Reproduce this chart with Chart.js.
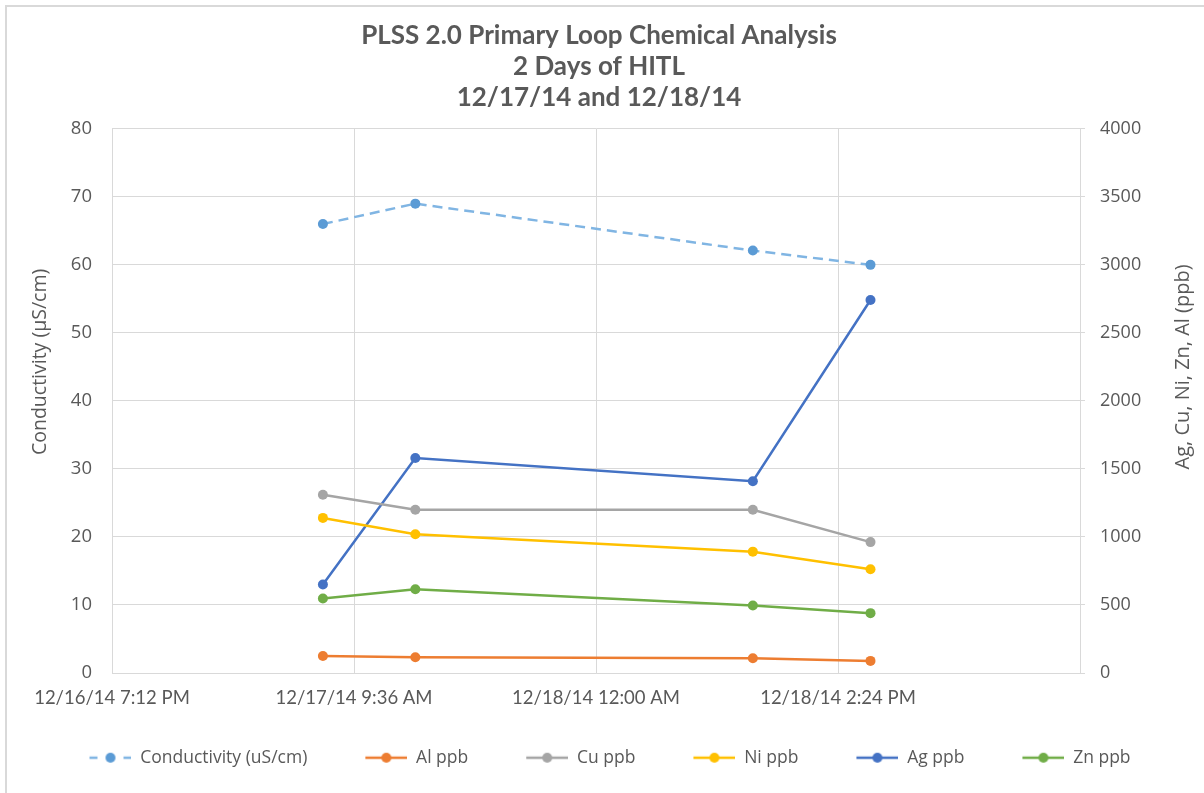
<!DOCTYPE html>
<html>
<head>
<meta charset="utf-8">
<script src="https://cdn.jsdelivr.net/npm/chart.js@4.4.0/dist/chart.umd.min.js"></script>
<style>
  html, body { margin: 0; padding: 0; background: #fff; }
  #wrap { position: relative; width: 1204px; height: 793px; overflow: hidden; }
  #frame { position: absolute; left: 5px; top: 5px; width: 1300px; height: 900px; border: 2px solid #d9d9d9; box-sizing: border-box; }
  canvas { position: absolute; left: 0; top: 0; }
</style>
</head>
<body>
<div id="wrap">
  <div id="frame"></div>
  <canvas id="chart" width="1204" height="793"></canvas>
</div>
<script>
// x axis tick labels (Excel date axis, 14.4 h apart)
const xTickLabels = ['12/16/14 7:12 PM', '12/17/14 9:36 AM', '12/18/14 12:00 AM', '12/18/14 2:24 PM'];

// sample times
const sampleTimes = ['12/17/14 7:45 AM', '12/17/14 1:15 PM', '12/18/14 9:20 AM', '12/18/14 4:20 PM'];

// left axis (uS/cm)
const conductivity = [66.0, 69.0, 62.1, 60.0];
// right axis (ppb)
const alPpb = [125, 116, 108, 89];
const cuPpb = [1310, 1200, 1200, 962];
const niPpb = [1140, 1020, 892, 762];
const agPpb = [650, 1580, 1410, 2742];
const znPpb = [547, 615, 496, 440];

const seriesNames = ['Conductivity (uS/cm)', 'Al ppb', 'Cu ppb', 'Ni ppb', 'Ag ppb', 'Zn ppb'];
const seriesColors = ['#5b9bd5', '#ed7d31', '#a5a5a5', '#ffc000', '#4472c4', '#70ad47'];

const leftTitle = 'Conductivity (µS/cm)';
const rightTitle = 'Ag, Cu, Ni, Zn, Al (ppb)';

function parseStamp(s) {
  const m = s.match(/(\d+)\/(\d+)\/(\d+) (\d+):(\d+) (AM|PM)/);
  let h = +m[4] % 12;
  if (m[6] === 'PM') h += 12;
  return Date.UTC(2000 + +m[3], +m[1] - 1, +m[2], h, +m[5]);
}

const xMin = parseStamp(xTickLabels[0]);
const xStep = parseStamp(xTickLabels[1]) - xMin;
const xMax = xMin + xStep * 4;
const times = sampleTimes.map(parseStamp);

function pts(vals) {
  return vals.map((v, i) => ({ x: times[i], y: v }));
}

// legend markers: short line with a dot; blank strip on the left widens the gap between entries
const ICON_GAP = 22;
const ICON_W = 42;
function legendIcon(color, dashed) {
  const c = document.createElement('canvas');
  c.width = ICON_GAP + ICON_W; c.height = 12;
  const g = c.getContext('2d');
  g.translate(ICON_GAP, 0);
  g.strokeStyle = dashed ? '#80b5e3' : color;
  g.lineWidth = 2.5;
  g.beginPath();
  if (dashed) {
    g.moveTo(0, 6); g.lineTo(8, 6);
    g.moveTo(34, 6); g.lineTo(42, 6);
  } else {
    g.moveTo(0, 6); g.lineTo(42, 6);
  }
  g.stroke();
  g.fillStyle = color;
  g.beginPath();
  g.arc(21, 6, 5, 0, Math.PI * 2);
  g.fill();
  return c;
}
const icons = seriesColors.map((c, i) => legendIcon(c, i === 0));

const allSeries = [conductivity, alPpb, cuPpb, niPpb, agPpb, znPpb];
const datasets = allSeries.map((vals, i) => ({
  label: seriesNames[i],
  data: pts(vals),
  yAxisID: i === 0 ? 'y' : 'y1',
  borderColor: i === 0 ? '#80b5e3' : seriesColors[i],
  backgroundColor: seriesColors[i],
  pointBackgroundColor: seriesColors[i],
  pointBorderColor: seriesColors[i],
  borderWidth: 2.5,
  borderDash: i === 0 ? [10, 6] : [],
  pointRadius: 5,
  pointBorderWidth: 0,
  tension: 0,
  fill: false
}));

const textGray = '#595959';
const gridGray = '#d9d9d9';

// both axis titles read bottom-to-top and sit a little above the middle, as in Excel
const axisTitlePlugin = {
  id: 'axisTitles',
  afterDraw(chart) {
    const { ctx, chartArea } = chart;
    const mid = (chartArea.top + chartArea.bottom) / 2;
    ctx.save();
    ctx.fillStyle = textGray;
    ctx.textAlign = 'center';
    ctx.textBaseline = 'middle';
    ctx.font = '19.5px "Open Sans"';
    ctx.translate(40, mid - 39);
    ctx.rotate(-Math.PI / 2);
    ctx.fillText(leftTitle, 0, 0);
    ctx.restore();
    ctx.save();
    ctx.fillStyle = textGray;
    ctx.textAlign = 'center';
    ctx.textBaseline = 'middle';
    ctx.font = '20px "Open Sans"';
    ctx.translate(chartArea.right + 103, mid - 34);
    ctx.rotate(-Math.PI / 2);
    ctx.fillText(rightTitle, 0, 0);
    ctx.restore();
  }
};

new Chart(document.getElementById('chart'), {
  type: 'line',
  data: { datasets },
  plugins: [axisTitlePlugin],
  options: {
    responsive: false,
    animation: false,
    layout: { padding: { left: 8, right: 14, top: 10, bottom: 16.5 } },
    plugins: {
      title: {
        display: true,
        text: ['PLSS 2.0 Primary Loop Chemical Analysis', '2 Days of HITL', '12/17/14 and 12/18/14'],
        color: textGray,
        font: { family: 'Lato', size: 26, weight: 'bold', lineHeight: 1.19 },
        padding: { top: 10, bottom: 16 }
      },
      legend: {
        position: 'bottom',
        labels: {
          usePointStyle: true,
          pointStyleWidth: ICON_GAP + ICON_W,
          padding: 36,
          color: textGray,
          font: { family: 'Open Sans', size: 17.5 },
          generateLabels(chart) {
            const items = Chart.defaults.plugins.legend.labels.generateLabels(chart);
            items.forEach((it, i) => { it.pointStyle = icons[i]; });
            return items;
          }
        }
      },
      tooltip: { enabled: false }
    },
    scales: {
      x: {
        type: 'linear',
        min: xMin,
        max: xMax,
        ticks: {
          stepSize: xStep,
          autoSkip: false,
          maxRotation: 0,
          padding: 14,
          color: textGray,
          font: { family: 'Lato', size: 18.5 },
          callback: (v, i) => xTickLabels[i] || ''
        },
        grid: { color: gridGray, drawTicks: false },
        border: { color: gridGray },
        afterFit: s => { s.height = 40; }
      },
      y: {
        position: 'left',
        min: 0,
        max: 80,
        ticks: { stepSize: 10, padding: 20, color: textGray, font: { family: 'Open Sans', size: 18.5 }, callback: v => String(v) },
        grid: { color: gridGray, drawTicks: false },
        border: { color: gridGray },
        afterFit: s => { s.width = 104; }
      },
      y1: {
        position: 'right',
        min: 0,
        max: 4000,
        ticks: { stepSize: 500, padding: 15, color: textGray, font: { family: 'Open Sans', size: 18 }, callback: v => String(v) },
        grid: { drawOnChartArea: false, color: gridGray, tickLength: 5 },
        border: { color: gridGray },
        afterFit: s => { s.width = 110; }
      }
    }
  }
});
</script>
</body>
</html>
